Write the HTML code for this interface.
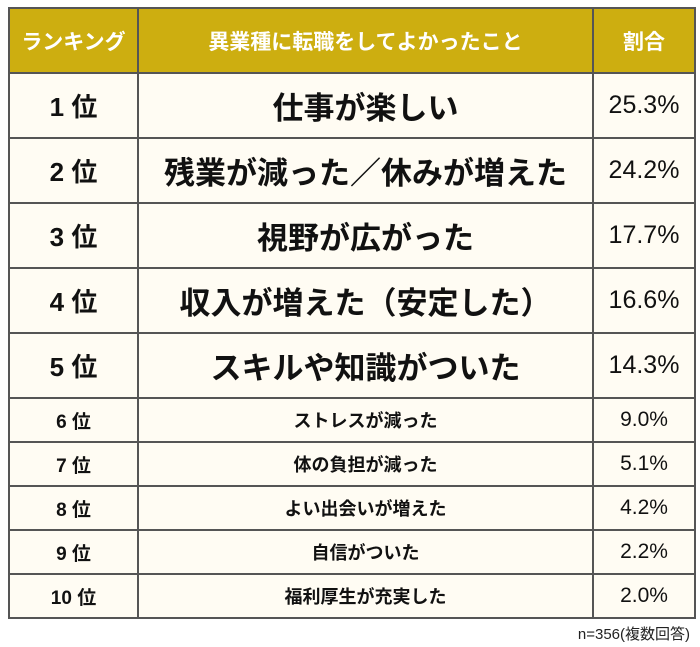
<!DOCTYPE html>
<html><head><meta charset="utf-8"><style>
body{margin:0;width:700px;height:647px;background:#fff;font-family:"Liberation Sans","Noto Sans CJK JP",sans-serif;position:relative;overflow:hidden}
table{position:absolute;left:8px;top:7px;border-collapse:collapse;width:686px;table-layout:fixed}
td{border:2px solid #555;text-align:center;background:#fffcf3;color:#111;padding:0;white-space:nowrap}
tr.h td{background:#cdae10;color:#fff;font-weight:bold;font-size:21px;height:63px}
tr.b td{height:63px}
tr.s td{height:42px}
.r{font-weight:bold}
tr.b .r{font-size:26px}
tr.s .r{font-size:19px}
tr.b .t{font-weight:bold;font-size:31px}
tr.s .t{font-weight:bold;font-size:18px}
tr.b .p{font-size:25px}
tr.s .p{font-size:21px}
.n{position:absolute;right:10px;top:623px;font-size:15px;color:#222}
</style></head><body>
<table>
<colgroup><col style="width:129px"><col style="width:455px"><col style="width:102px"></colgroup>
<tr class="h"><td>ランキング</td><td>異業種に転職をしてよかったこと</td><td>割合</td></tr>
<tr class="b"><td class="r">1 位</td><td class="t">仕事が楽しい</td><td class="p">25.3%</td></tr>
<tr class="b"><td class="r">2 位</td><td class="t">残業が減った／休みが増えた</td><td class="p">24.2%</td></tr>
<tr class="b"><td class="r">3 位</td><td class="t">視野が広がった</td><td class="p">17.7%</td></tr>
<tr class="b"><td class="r">4 位</td><td class="t">収入が増えた（安定した）</td><td class="p">16.6%</td></tr>
<tr class="b"><td class="r">5 位</td><td class="t">スキルや知識がついた</td><td class="p">14.3%</td></tr>
<tr class="s"><td class="r">6 位</td><td class="t">ストレスが減った</td><td class="p">9.0%</td></tr>
<tr class="s"><td class="r">7 位</td><td class="t">体の負担が減った</td><td class="p">5.1%</td></tr>
<tr class="s"><td class="r">8 位</td><td class="t">よい出会いが増えた</td><td class="p">4.2%</td></tr>
<tr class="s"><td class="r">9 位</td><td class="t">自信がついた</td><td class="p">2.2%</td></tr>
<tr class="s"><td class="r">10 位</td><td class="t">福利厚生が充実した</td><td class="p">2.0%</td></tr>
</table>
<div class="n">n=356(複数回答)</div>
</body></html>
